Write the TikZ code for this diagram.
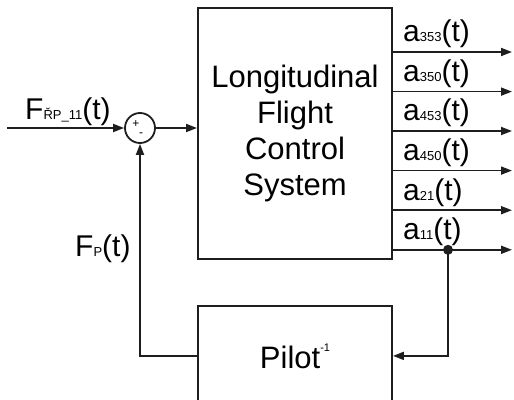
\documentclass[tikz,border=0pt]{standalone}
\usepackage{fontspec}
\setmainfont{Liberation Sans}
\usepackage{xcolor}
\usepackage{tikz}
\usetikzlibrary{arrows.meta,positioning,calc}
\definecolor{BDLine}{HTML}{1E1E1E}
\newcommand{\tinysub}[1]{{\fontsize{13pt}{13pt}\selectfont #1}}

\begin{document}
\begin{tikzpicture}[
  x=1pt,y=1pt,
  block/.style={draw=BDLine,line width=1.9pt,minimum width=194pt,align=center,inner sep=0pt,font=\fontsize{31pt}{36pt}\selectfont},
  sumnode/.style={circle,draw=BDLine,line width=1.8pt,minimum size=30pt,inner sep=0pt},
  sig/.style={draw=BDLine,line width=1.8pt,-{Triangle[length=11pt,width=8pt]}},
  dot/.style={circle,fill=BDLine,minimum size=10pt,inner sep=0pt},
  siglabel/.style={font=\fontsize{30pt}{30pt}\selectfont,inner sep=0pt},
  sign/.style={font=\fontsize{12pt}{12pt}\selectfont,inner sep=0pt},
  node distance=45pt
]
\useasboundingbox (0,0) rectangle (514,399);
\node[block,minimum height=251pt] (lfcs) at (295,265.5) {Longitudinal\\Flight\\Control\\System};
\node[block,minimum height=100pt,below=of lfcs] (pilot) {Pilot\raisebox{17pt}{\fontsize{11pt}{11pt}\selectfont -1}};
\node[sumnode] (sum) at (140,271) {};
\node[sign] at ([xshift=-4pt,yshift=4pt]sum.center) {+};
\node[sign] at ([xshift=1pt,yshift=-7pt]sum.center) {-};
\coordinate (in) at (7,271);
\node[siglabel,anchor=base west] (fin) at ([xshift=18pt,yshift=8pt]in) {F\tinysub{ŘP\_11}(t)};
\draw[sig] (in) -- (sum.west);
\draw[sig] (sum.east) -- (sum.east -| lfcs.west);
\foreach \sub/\y in {353/347,350/307.4,453/268,450/228.4,21/188.8,11/149.2}{
  \coordinate (o\sub) at (512,\y);
  \draw[sig] (lfcs.east |- o\sub) -- (o\sub);
  \node[siglabel,anchor=base west] (a\sub) at ([xshift=10pt,yshift=10pt]lfcs.east |- o\sub) {a\tinysub{\sub}(t)};
}
\node[dot] (tap) at ([xshift=-64pt]o11) {};
\draw[sig] (tap.center) |- (pilot.east);
\draw[sig] (pilot.west) -| (sum.south);
\node[siglabel,anchor=base west] (fp) at (75,142) {F\tinysub{P}(t)};
\end{tikzpicture}
\end{document}
